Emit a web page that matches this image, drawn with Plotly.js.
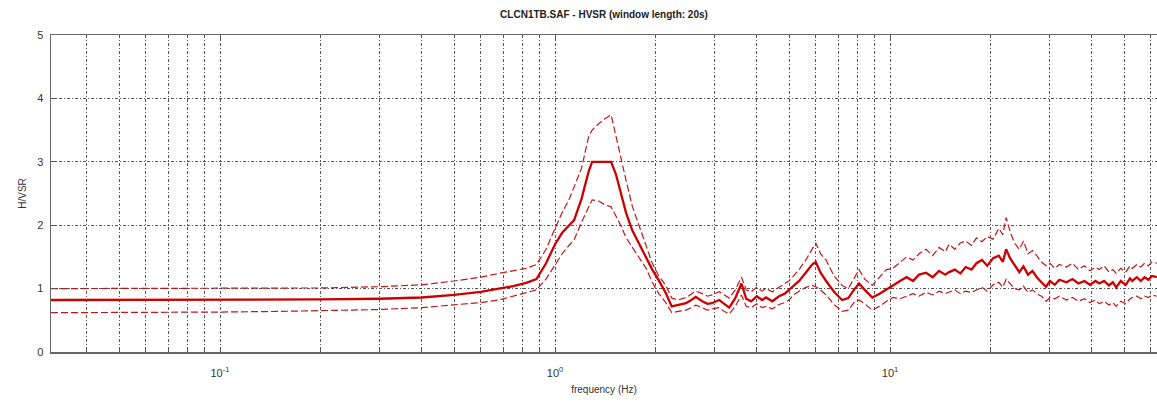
<!DOCTYPE html>
<html>
<head>
<meta charset="utf-8">
<script src="https://cdn.plot.ly/plotly-3.0.1.min.js"></script>
<style>html,body{margin:0;padding:0;background:#fff;}#chart{width:1157px;height:405px;}</style>
</head>
<body>
<div id="chart"></div>
<script>
// Frequency samples (Hz)
const freq = [0.0313, 0.05, 0.08, 0.1, 0.15, 0.2, 0.3, 0.4, 0.5, 0.6,
  0.68, 0.75, 0.82, 0.88, 0.94, 1.0, 1.05, 1.1, 1.14, 1.2,
  1.26, 1.29, 1.35, 1.41, 1.47, 1.52, 1.57, 1.63, 1.7, 1.78,
  1.87, 1.95, 2.04, 2.14, 2.23, 2.33, 2.46, 2.55, 2.63, 2.75,
  2.85, 2.94, 3.09, 3.2, 3.31, 3.45, 3.6, 3.72, 3.85, 4.0,
  4.15, 4.26, 4.45, 4.66, 4.85, 4.99, 5.15, 5.35, 5.6, 5.85,
  6.0, 6.2, 6.44, 6.8, 7.19, 7.5, 7.8, 8.08, 8.4, 8.85,
  9.3, 9.75, 10.2, 10.7, 11.2, 11.7, 12.2, 12.8, 13.4, 14.0,
  14.6, 15.0, 15.6, 16.2, 16.8, 17.5, 18.1, 18.8, 19.5, 20.3,
  21.1, 21.7, 22.2, 22.8, 23.5, 24.3, 25.0, 25.8, 26.6, 27.4,
  28.3, 29.2, 30.0, 31.0, 32.0, 33.6, 35.0, 36.5, 38.0, 39.5,
  41.0, 42.1, 43.5, 45.0, 46.2, 47.3, 48.8, 50.5, 52.0, 52.8,
  54.5, 56.0, 57.5, 59.0, 60.5, 62.5];

// Mean H/V ratio
const hvMean = [0.82, 0.82, 0.82, 0.82, 0.82, 0.83, 0.84, 0.86, 0.90, 0.95,
  1.00, 1.04, 1.09, 1.15, 1.40, 1.70, 1.88, 2.00, 2.08, 2.42,
  2.85, 3.00, 3.00, 3.00, 3.00, 2.80, 2.50, 2.19, 1.92, 1.72,
  1.50, 1.30, 1.13, 0.93, 0.72, 0.74, 0.77, 0.82, 0.87, 0.80,
  0.76, 0.77, 0.82, 0.76, 0.70, 0.85, 1.08, 0.84, 0.80, 0.88,
  0.82, 0.86, 0.80, 0.88, 0.92, 0.98, 1.05, 1.12, 1.25, 1.38,
  1.42, 1.25, 1.12, 0.95, 0.82, 0.85, 0.98, 1.08, 0.98, 0.86,
  0.92, 0.98, 1.05, 1.12, 1.18, 1.12, 1.22, 1.25, 1.18, 1.28,
  1.22, 1.26, 1.30, 1.24, 1.34, 1.30, 1.40, 1.45, 1.36, 1.48,
  1.52, 1.42, 1.62, 1.48, 1.38, 1.26, 1.35, 1.22, 1.28, 1.18,
  1.10, 1.03, 1.12, 1.06, 1.14, 1.10, 1.15, 1.08, 1.12, 1.06,
  1.12, 1.08, 1.12, 1.05, 1.10, 1.02, 1.12, 1.06, 1.16, 1.12,
  1.18, 1.12, 1.18, 1.14, 1.20, 1.18];

// Mean + standard deviation
const hvUpper = [1.00, 1.00, 1.00, 1.00, 1.00, 1.01, 1.03, 1.06, 1.12, 1.18,
  1.24, 1.28, 1.32, 1.38, 1.62, 1.95, 2.20, 2.40, 2.60, 2.90,
  3.40, 3.50, 3.60, 3.68, 3.74, 3.40, 3.05, 2.70, 2.30, 2.00,
  1.65, 1.40, 1.20, 1.05, 0.85, 0.82, 0.86, 0.92, 0.96, 0.92,
  0.88, 0.90, 0.95, 0.90, 0.85, 0.98, 1.18, 0.98, 0.95, 1.02,
  0.96, 1.00, 0.95, 1.02, 1.08, 1.12, 1.20, 1.30, 1.45, 1.62,
  1.72, 1.55, 1.45, 1.20, 1.05, 1.00, 1.15, 1.30, 1.15, 1.05,
  1.18, 1.30, 1.32, 1.42, 1.50, 1.45, 1.55, 1.62, 1.52, 1.65,
  1.58, 1.70, 1.62, 1.72, 1.75, 1.68, 1.80, 1.74, 1.82, 1.78,
  1.95, 1.85, 2.12, 1.90, 1.72, 1.62, 1.75, 1.55, 1.60, 1.52,
  1.42, 1.36, 1.40, 1.32, 1.38, 1.34, 1.40, 1.30, 1.36, 1.28,
  1.34, 1.30, 1.36, 1.26, 1.30, 1.24, 1.32, 1.26, 1.36, 1.32,
  1.38, 1.34, 1.40, 1.36, 1.42, 1.40];

// Mean - standard deviation
const hvLower = [0.62, 0.62, 0.63, 0.63, 0.64, 0.65, 0.67, 0.70, 0.74, 0.78,
  0.82, 0.88, 0.93, 0.98, 1.15, 1.38, 1.55, 1.68, 1.77, 2.05,
  2.30, 2.40, 2.38, 2.32, 2.29, 2.15, 2.00, 1.80, 1.65, 1.50,
  1.32, 1.10, 0.92, 0.78, 0.62, 0.64, 0.66, 0.70, 0.74, 0.70,
  0.66, 0.68, 0.70, 0.64, 0.60, 0.72, 0.90, 0.72, 0.70, 0.76,
  0.70, 0.72, 0.68, 0.75, 0.78, 0.82, 0.90, 0.96, 1.02, 1.05,
  1.03, 0.98, 0.90, 0.75, 0.64, 0.66, 0.78, 0.82, 0.76, 0.66,
  0.72, 0.80, 0.86, 0.84, 0.88, 0.92, 0.88, 0.94, 0.90, 0.96,
  0.92, 0.94, 0.98, 0.92, 0.96, 0.94, 0.98, 1.02, 0.96, 1.06,
  1.10, 1.02, 1.15, 1.08, 1.00, 0.98, 1.04, 0.94, 0.98, 0.92,
  0.88, 0.80, 0.86, 0.84, 0.88, 0.82, 0.86, 0.80, 0.84, 0.78,
  0.82, 0.76, 0.80, 0.74, 0.78, 0.72, 0.80, 0.76, 0.84, 0.86,
  0.88, 0.84, 0.88, 0.86, 0.90, 0.88];

const majorTicks = [0.1, 1, 10];
const majorTickText = ['10<sup>-1</sup>', '10<sup>0</sup>', '10<sup>1</sup>'];
const minorTicks = [0.04, 0.05, 0.06, 0.07, 0.08, 0.09,
  0.2, 0.3, 0.4, 0.5, 0.6, 0.7, 0.8, 0.9,
  2, 3, 4, 5, 6, 7, 8, 9,
  20, 30, 40, 50, 60];
const yTicks = [0, 1, 2, 3, 4, 5];

const gridColor = '#555';
const gridDash = '3px,2px,1px,2px';

const traces = [
  {x: freq, y: hvUpper, type: 'scatter', mode: 'lines',
   line: {color: '#c01818', width: 1.2, dash: '7px,3px'}, hoverinfo: 'skip'},
  {x: freq, y: hvLower, type: 'scatter', mode: 'lines',
   line: {color: '#c01818', width: 1.2, dash: '7px,3px'}, hoverinfo: 'skip'},
  {x: freq, y: hvMean, type: 'scatter', mode: 'lines',
   line: {color: '#cc0000', width: 2.3}, hoverinfo: 'skip'}
];

const layout = {
  width: 1157, height: 405,
  margin: {l: 51, r: 0, t: 35, b: 53, pad: 0},
  paper_bgcolor: '#fff', plot_bgcolor: '#fff',
  showlegend: false,
  font: {family: 'Liberation Sans, Arial, sans-serif', size: 10, color: '#333'},
  title: {
    text: '<b>CLCN1TB.SAF - HVSR (window length: 20s)</b>',
    x: 0.5, xref: 'paper', xanchor: 'center',
    y: 1 - 14 / 405, yref: 'container', yanchor: 'middle',
    font: {size: 10, color: '#222'}
  },
  xaxis: {
    type: 'log',
    range: [Math.log10(0.0313), Math.log10(62.6)],
    tickmode: 'array', tickvals: majorTicks, ticktext: majorTickText,
    showgrid: true, gridcolor: gridColor, gridwidth: 1, griddash: gridDash,
    minor: {tickmode: 'array', tickvals: minorTicks, showgrid: true,
            gridcolor: gridColor, gridwidth: 1, griddash: gridDash,
            ticks: 'inside', ticklen: 3, tickcolor: '#555'},
    ticks: 'inside', ticklen: 5, tickcolor: '#555',
    ticklabelstandoff: 10,
    showline: true, linecolor: '#666', linewidth: 1.5, mirror: 'ticks',
    zeroline: false,
    tickfont: {size: 11, color: '#333'},
    title: {text: 'frequency (Hz)', standoff: 8, font: {size: 10, color: '#333'}}
  },
  yaxis: {
    range: [0, 5],
    tickmode: 'array', tickvals: yTicks,
    showgrid: true, gridcolor: gridColor, gridwidth: 1, griddash: gridDash,
    ticks: 'inside', ticklen: 5, tickcolor: '#555',
    ticklabelstandoff: 4,
    showline: true, linecolor: '#666', linewidth: 1.5,
    zeroline: false,
    tickfont: {size: 11, color: '#333'},
    title: {text: 'H/VSR', standoff: 8, font: {size: 10, color: '#333'}}
  }
};

Plotly.newPlot('chart', traces, layout, {staticPlot: true, displayModeBar: false});
</script>
</body>
</html>
